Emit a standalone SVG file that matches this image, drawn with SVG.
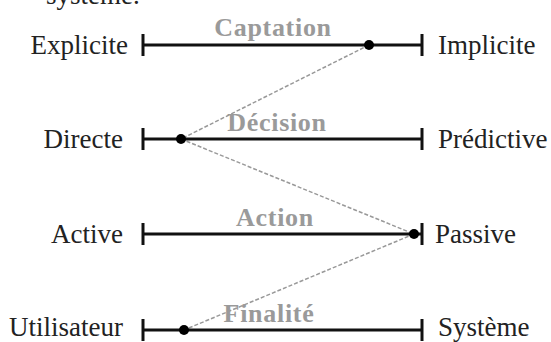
<svg xmlns="http://www.w3.org/2000/svg" width="551" height="342" viewBox="0 0 551 342">
<style>
.lbl{font-family:"Liberation Serif","Times New Roman",serif;font-size:27px;fill:#222}
.ttl{font-family:"Liberation Serif","Times New Roman",serif;font-size:26px;font-weight:bold;fill:#9a9a9a;letter-spacing:0.7px}
.axis{stroke:#111;stroke-width:3;fill:none}
.tick{stroke:#111;stroke-width:3}
.dash{stroke:#999;stroke-width:1.5;stroke-dasharray:4 2;fill:none}
.dot{fill:#000}
</style>
<rect width="551" height="342" fill="#fff"/>
<text class="lbl" x="46" y="4">système.</text>
<g id="connectors">
<line class="dash" x1="369" y1="45" x2="181" y2="139"/>
<line class="dash" x1="181" y1="139" x2="414" y2="234"/>
<line class="dash" x1="414" y1="234" x2="184" y2="330"/>
</g>
<g id="captation">
<line class="axis" x1="143" y1="45" x2="422" y2="45"/>
<line class="tick" x1="143" y1="34" x2="143" y2="56"/>
<line class="tick" x1="422" y1="34" x2="422" y2="56"/>
<circle class="dot" cx="369" cy="45" r="5"/>
<text class="ttl" x="273" y="36" text-anchor="middle">Captation</text>
<text class="lbl" x="128" y="54" text-anchor="end">Explicite</text>
<text class="lbl" x="438" y="54">Implicite</text>
</g>
<g id="decision">
<line class="axis" x1="143" y1="139" x2="422" y2="139"/>
<line class="tick" x1="143" y1="128" x2="143" y2="150"/>
<line class="tick" x1="422" y1="128" x2="422" y2="150"/>
<circle class="dot" cx="181" cy="139" r="5"/>
<text class="ttl" x="277" y="131" text-anchor="middle">Décision</text>
<text class="lbl" x="123" y="148" text-anchor="end">Directe</text>
<text class="lbl" x="438" y="148">Prédictive</text>
</g>
<g id="action">
<line class="axis" x1="143" y1="234" x2="422" y2="234"/>
<line class="tick" x1="143" y1="223" x2="143" y2="245"/>
<line class="tick" x1="422" y1="223" x2="422" y2="245"/>
<circle class="dot" cx="414" cy="234" r="5"/>
<text class="ttl" x="275" y="226" text-anchor="middle">Action</text>
<text class="lbl" x="123" y="243" text-anchor="end">Active</text>
<text class="lbl" x="435" y="243">Passive</text>
</g>
<g id="finalite">
<line class="axis" x1="143" y1="330" x2="422" y2="330"/>
<line class="tick" x1="143" y1="319" x2="143" y2="341"/>
<line class="tick" x1="422" y1="319" x2="422" y2="341"/>
<circle class="dot" cx="184" cy="330" r="5"/>
<text class="ttl" x="269" y="322" text-anchor="middle">Finalité</text>
<text class="lbl" x="123" y="336" text-anchor="end">Utilisateur</text>
<text class="lbl" x="438" y="336">Système</text>
</g>
</svg>
